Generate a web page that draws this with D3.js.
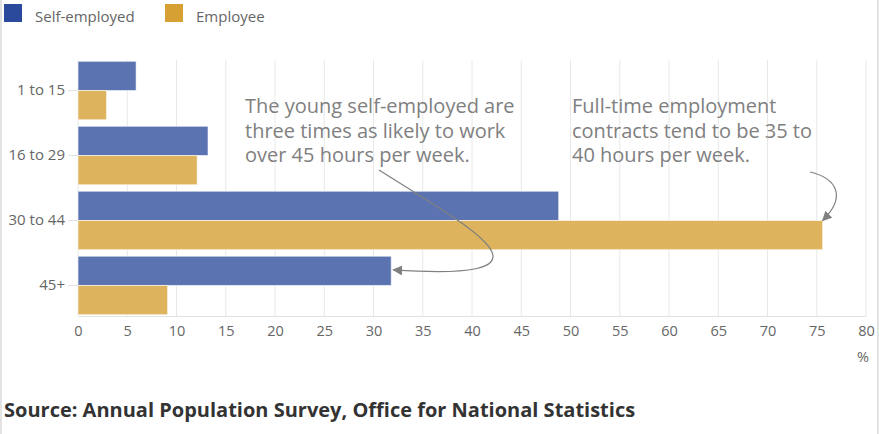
<!DOCTYPE html>
<html>
<head>
<meta charset="utf-8">
<script src="https://cdn.jsdelivr.net/npm/d3@7"></script>
<style>
  body { margin: 0; background: #fff; font-family: "Open Sans", sans-serif; }
  svg { display: block; }
  .tick text { fill: #666; font-family: "Open Sans", sans-serif; }
  .note { fill: #808080; font-size: 20px; }
</style>
</head>
<body>
<svg width="879" height="434"></svg>
<script>
// data
const categories = ['1 to 15', '16 to 29', '30 to 44', '45+'];
const selfEmployed = [5.9, 13.2, 48.8, 31.8];
const employee = [2.9, 12.1, 75.6, 9.1];
const seriesNames = ['Self-employed', 'Employee'];
const xTicks = [0, 5, 10, 15, 20, 25, 30, 35, 40, 45, 50, 55, 60, 65, 70, 75, 80];

const legendColors = ['#2b4a9c', '#d6a132'];
const barColors = ['#5b73b1', '#deb35d'];

const svg = d3.select('svg');

// frame lines left / right
svg.append('line').attr('x1', 1).attr('x2', 1).attr('y1', 0).attr('y2', 434)
    .attr('stroke', '#e3e3e3').attr('stroke-width', 2);
svg.append('line').attr('x1', 878).attr('x2', 878).attr('y1', 0).attr('y2', 434)
    .attr('stroke', '#e3e3e3').attr('stroke-width', 2);

const xScale = d3.scaleLinear().domain([0, 80]).range([78, 866]);
const yScale = d3.scaleBand().domain(categories).range([60, 316])
    .paddingInner(0.1).paddingOuter(0.02);
const sub = d3.scaleBand().domain(seriesNames).range([0, yScale.bandwidth()]);

// grid
svg.append('g')
    .selectAll('line')
    .data(xTicks)
    .enter()
    .append('line')
    .attr('x1', d => xScale(d)).attr('x2', d => xScale(d))
    .attr('y1', 60).attr('y2', 316)
    .attr('stroke', '#e8e8e8').attr('stroke-width', 1);

// bars
const rows = categories.map((c, i) => ({cat: c, vals: [selfEmployed[i], employee[i]]}));
const groups = svg.append('g').selectAll('g')
    .data(rows)
    .enter()
    .append('g')
    .attr('transform', d => `translate(0,${yScale(d.cat)})`);

groups.selectAll('rect')
    .data(d => d.vals.map((v, j) => ({name: seriesNames[j], v: v, j: j})))
    .enter()
    .append('rect')
    .attr('x', xScale(0))
    .attr('y', d => sub(d.name))
    .attr('width', d => xScale(d.v) - xScale(0))
    .attr('height', sub.bandwidth())
    .attr('fill', d => barColors[d.j])
    .attr('stroke', 'rgba(255,255,255,0.6)')
    .attr('stroke-width', 1);

// x axis
const xAxis = svg.append('g')
    .attr('transform', 'translate(0,316)')
    .call(d3.axisBottom(xScale).tickValues(xTicks).tickSize(0).tickPadding(10));
xAxis.select('.domain').attr('stroke', '#e3e3e3');
xAxis.selectAll('.tick text').style('font-size', '14.5px');

svg.append('text')
    .attr('x', 863).attr('y', 362)
    .attr('text-anchor', 'middle')
    .attr('fill', '#666').attr('font-size', 14.5)
    .text('%');

// y axis
const yAxis = svg.append('g')
    .attr('transform', `translate(${xScale(0)},0)`)
    .call(d3.axisLeft(yScale).tickSize(10).tickPadding(3));
yAxis.select('.domain').remove();
yAxis.selectAll('.tick line').attr('stroke', '#e3e3e3');
yAxis.selectAll('.tick text').style('font-size', '15px');

// legend
const legend = svg.append('g');
seriesNames.forEach((n, i) => {
    const lx = 4 + i * 161;
    legend.append('rect').attr('x', lx).attr('y', 4).attr('width', 18).attr('height', 18)
        .attr('fill', legendColors[i]);
    legend.append('text').attr('x', lx + 31).attr('y', 22)
        .attr('fill', '#666').attr('font-size', 15)
        .text(n);
});

// annotations
const note1 = ['The young self-employed are', 'three times as likely to work', 'over 45 hours per week.'];
const note2 = ['Full-time employment', 'contracts tend to be 35 to', '40 hours per week.'];

function drawNote(lines, x) {
    svg.append('text')
        .attr('class', 'note')
        .selectAll('tspan')
        .data(lines)
        .enter()
        .append('tspan')
        .attr('x', x)
        .attr('y', (d, i) => 113 + i * 24.5)
        .text(d => d);
}
drawNote(note1, 245);
drawNote(note2, 572);

svg.append('defs').append('marker')
    .attr('id', 'arrow')
    .attr('viewBox', '0 0 10 10')
    .attr('refX', 9).attr('refY', 5)
    .attr('markerWidth', 10).attr('markerHeight', 10)
    .attr('markerUnits', 'userSpaceOnUse')
    .attr('orient', 'auto')
    .append('path')
    .attr('d', 'M0,0 L10,5 L0,10 Z')
    .attr('fill', '#808080');

// arrow to 45+ self-employed bar end
const tip1x = xScale(selfEmployed[3]) + 2;
const tip1y = yScale('45+') + sub('Self-employed') + sub.bandwidth() / 2 - 1;
const p1 = d3.path();
p1.moveTo(379, 170);
p1.bezierCurveTo(470, 228, 575, 282, tip1x, tip1y);
svg.append('path').attr('d', p1.toString())
    .attr('fill', 'none').attr('stroke', '#808080').attr('stroke-width', 1.2)
    .attr('marker-end', 'url(#arrow)');

// arrow to 30 to 44 employee bar end
const tip2x = xScale(employee[2]);
const tip2y = yScale('30 to 44') + sub('Employee');
const p2 = d3.path();
p2.moveTo(810, 172);
p2.bezierCurveTo(835, 178, 848, 195, tip2x, tip2y);
svg.append('path').attr('d', p2.toString())
    .attr('fill', 'none').attr('stroke', '#808080').attr('stroke-width', 1.2)
    .attr('marker-end', 'url(#arrow)');

// source
svg.append('text')
    .attr('x', 4).attr('y', 417)
    .attr('fill', '#333').attr('font-size', 20).attr('font-weight', 'bold')
    .text('Source: Annual Population Survey, Office for National Statistics');
</script>
</body>
</html>
